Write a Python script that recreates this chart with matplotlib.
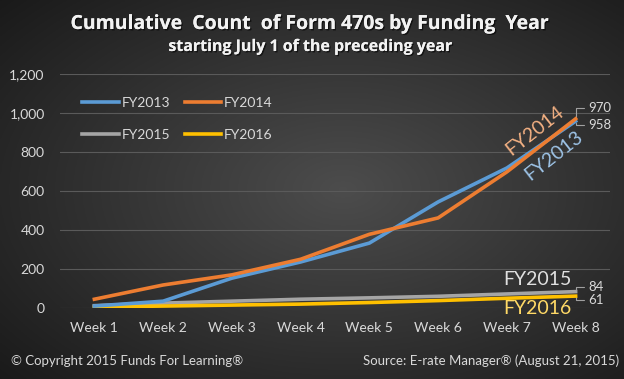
import numpy as np
import matplotlib.pyplot as plt
import matplotlib.patheffects as pe

# Data
weeks = ['Week 1', 'Week 2', 'Week 3', 'Week 4', 'Week 5', 'Week 6', 'Week 7', 'Week 8']
fy2013 = [10, 35, 153, 236, 333, 544, 718, 958]
fy2014 = [45, 118, 170, 250, 378, 462, 698, 970]
fy2015 = [12, 25, 35, 45, 52, 60, 72, 84]
fy2016 = [5, 10, 15, 20, 28, 38, 50, 61]
yticks = [0, 200, 400, 600, 800, 1000, 1200]

c13, c14, c15, c16 = '#5B9BD5', '#ED7D31', '#A5A5A5', '#FFC000'
txt = '#D9D9D9'
plt.rcParams['font.family'] = ['Lato', 'DejaVu Sans']

fig = plt.figure(figsize=(6.24, 3.79), dpi=100)

# radial dark-gray background
bg = fig.add_axes([0, 0, 1, 1], zorder=-10)
yy, xx = np.mgrid[0:1:200j, 0:1:300j]
d = np.sqrt(((xx - 0.55) / 0.75) ** 2 + ((yy - 0.5) / 0.75) ** 2)
v = np.clip(0.30 - 0.20 * d, 0.1, 0.3)
bg.imshow(np.dstack([v, v, v]), aspect='auto', extent=(0, 1, 0, 1))
bg.axis('off')

ax = fig.add_axes([60 / 624, 1 - 308 / 379, 550 / 624, 234 / 379])
ax.set_facecolor('none')
x = np.arange(len(weeks))
ax.plot(x, fy2015, color=c15, lw=2.6, label='FY2015', zorder=3)
ax.plot(x, fy2016, color=c16, lw=2.6, label='FY2016', zorder=4)
ax.plot(x, fy2013, color=c13, lw=2.6, label='FY2013', zorder=5)
ax.plot(x, fy2014, color=c14, lw=2.6, label='FY2014', zorder=6)

ax.set_xlim(-0.5, 7.5)
ax.set_ylim(0, 1200)
ax.set_xticks(x)
ax.set_xticklabels(weeks)
ax.set_yticks(yticks)
ax.set_yticklabels(['{:,}'.format(t) for t in yticks])
ax.tick_params(colors=txt, labelsize=10, length=0)
ax.tick_params(axis='x', pad=10)
ax.tick_params(axis='y', pad=11)
ax.grid(axis='y', color='#5a5a5a', lw=0.8)
ax.set_axisbelow(True)
for s in ax.spines.values():
    s.set_visible(False)

# legend fills column-wise: FY2013/FY2015 then FY2014/FY2016
h, l = ax.get_legend_handles_labels()
order = [2, 0, 3, 1]
leg = ax.legend([h[i] for i in order], [l[i] for i in order], ncol=2, frameon=False,
                loc='upper left', bbox_to_anchor=(0.018, 0.957), fontsize=10,
                handlelength=2.6, handletextpad=0.2, columnspacing=1.1, labelspacing=1.45)
for t in leg.get_texts():
    t.set_color(txt)

# end-point data labels with leader lines
def endlabel(val, dx, dy):
    ax.annotate(str(val), xy=(7, val), xytext=(dx, dy), textcoords='offset points',
                color=txt, fontsize=9.5, va='center', ha='left',
                arrowprops=dict(arrowstyle='-', color='#a0a0a0', lw=0.8,
                                connectionstyle='angle,angleA=0,angleB=90,rad=0',
                                shrinkA=1, shrinkB=1))

endlabel(fy2014[-1], 9, 8)
endlabel(fy2013[-1], 9, -3)
endlabel(fy2015[-1], 9, 3)
endlabel(fy2016[-1], 9, -3)

# inline series labels
ax.text(6.41, 910, 'FY2014', color='#F4B183', fontsize=14, rotation=38, ha='center', va='center')
ax.text(6.68, 780, 'FY2013', color='#9DC3E6', fontsize=14, rotation=38, ha='center', va='center')
ax.text(6.45, 144, 'FY2015', color='#E0E0E0', fontsize=14, ha='center', va='center')
ax.text(6.45, 0, 'FY2016', color='#FFD966', fontsize=14, ha='center', va='center')

shadow = [pe.withSimplePatchShadow(offset=(1, -1), shadow_rgbFace='black', alpha=0.6), pe.Normal()]
fig.text(311 / 624, 1 - 24 / 379, 'Cumulative  Count  of Form 470s by Funding  Year', color='#F2F2F2',
         fontsize=14, fontweight='bold', family='Open Sans', ha='center', va='center',
         path_effects=shadow)
fig.text(311 / 624, 1 - 47 / 379, 'starting July 1 of the preceding year', color='#F2F2F2',
         fontsize=11.5, fontweight='bold', family='Open Sans', ha='center', va='center',
         path_effects=shadow)

fig.text(11 / 624, 1 - 361 / 379, '\u00a9 Copyright 2015 Funds For Learning\u00ae', color=txt,
         fontsize=9.5, ha='left', va='center')
fig.text(619 / 624, 1 - 361 / 379, 'Source: E-rate Manager\u00ae (August 21, 2015)', color=txt,
         fontsize=9.5, ha='right', va='center')

fig.savefig('out.png', dpi=100)
